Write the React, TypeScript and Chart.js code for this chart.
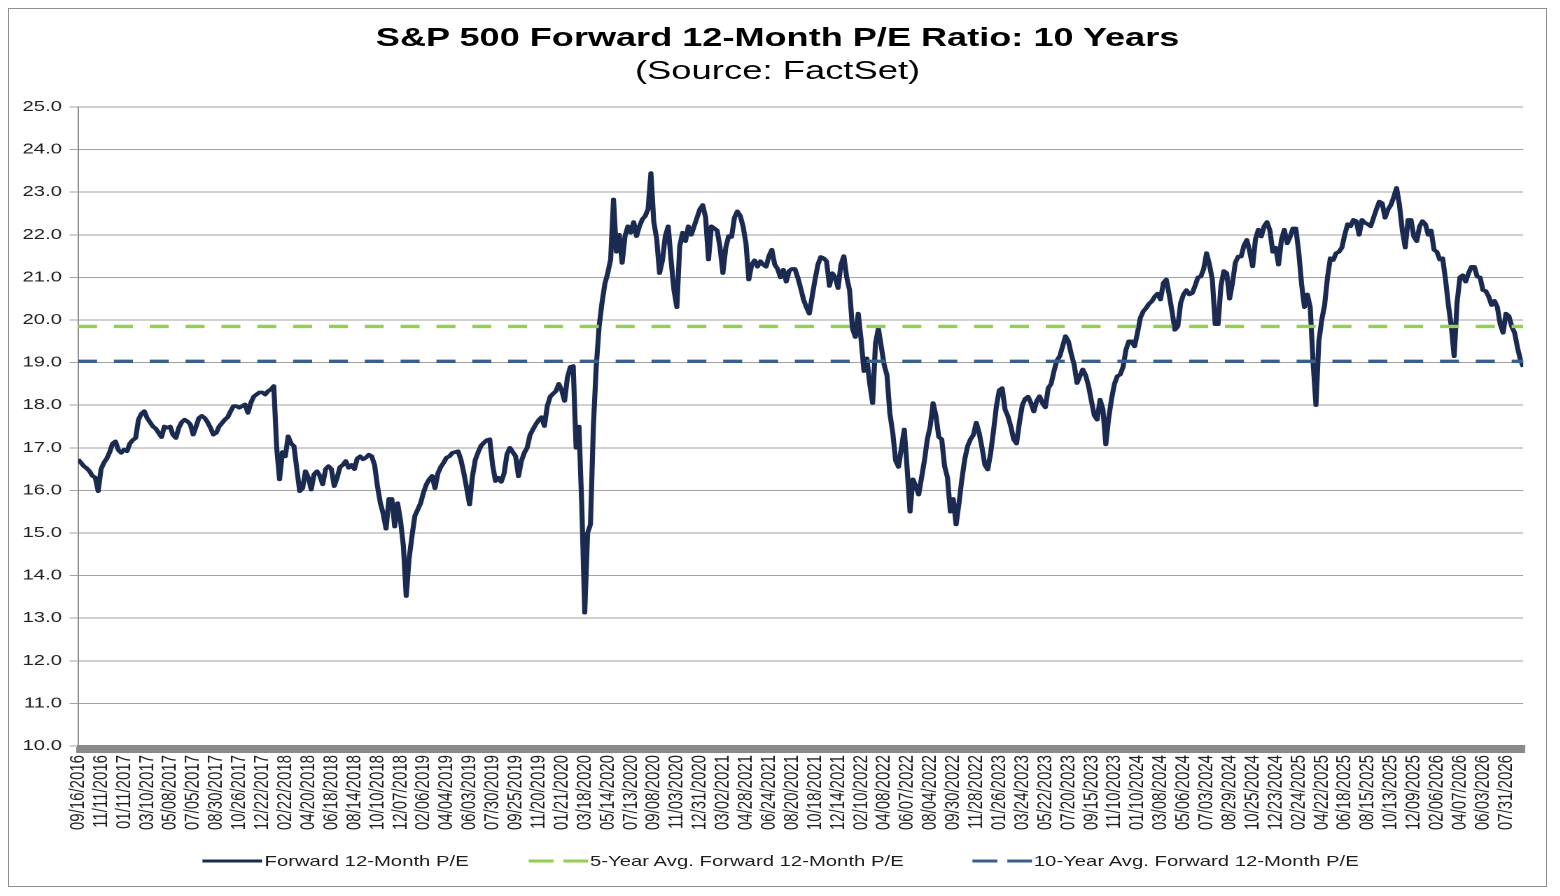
import React, { useEffect, useRef } from "react";
import { Chart, registerables } from "chart.js";

Chart.register(...registerables);

// ---------- data ----------
const chartTitle = "S&P 500 Forward 12-Month P/E Ratio: 10 Years";
const chartSubtitle = "(Source: FactSet)";

const seriesNames = [
  "Forward 12-Month P/E",
  "5-Year Avg. Forward 12-Month P/E",
  "10-Year Avg. Forward 12-Month P/E",
];

// Category labels shown on the x axis (one every 8 weekly points)
const tickLabels = [
  "09/16/2016", "11/11/2016", "01/11/2017", "03/10/2017", "05/08/2017", "07/05/2017", "08/30/2017",
  "10/26/2017", "12/22/2017", "02/22/2018", "04/20/2018", "06/18/2018", "08/14/2018", "10/10/2018",
  "12/07/2018", "02/06/2019", "04/04/2019", "06/03/2019", "07/30/2019", "09/25/2019", "11/20/2019",
  "01/21/2020", "03/18/2020", "05/14/2020", "07/13/2020", "09/08/2020", "11/03/2020", "12/31/2020",
  "03/02/2021", "04/28/2021", "06/24/2021", "08/20/2021", "10/18/2021", "12/14/2021", "02/10/2022",
  "04/08/2022", "06/07/2022", "08/04/2022", "09/30/2022", "11/28/2022", "01/26/2023", "03/24/2023",
  "05/22/2023", "07/20/2023", "09/15/2023", "11/10/2023", "01/10/2024", "03/08/2024", "05/06/2024",
  "07/03/2024", "08/29/2024", "10/25/2024", "12/23/2024", "02/24/2025", "04/22/2025", "06/18/2025",
  "08/15/2025", "10/13/2025", "12/09/2025", "02/06/2026", "04/07/2026", "06/03/2026", "07/31/2026",
];
const pointsPerLabel = 8;

// Forward 12-month P/E
const peValues = [
  16.73, 16.65, 16.57, 16.52, 16.45, 16.34, 16.3, 15.98, 16.5, 16.65,
  16.75, 16.9, 17.1, 17.15, 16.95, 16.88, 16.96, 16.92, 17.1, 17.18,
  17.23, 17.66, 17.8, 17.86, 17.7, 17.6, 17.5, 17.45, 17.35, 17.25,
  17.5, 17.47, 17.5, 17.3, 17.23, 17.47, 17.6, 17.66, 17.62, 17.55,
  17.31, 17.5, 17.7, 17.75, 17.7, 17.6, 17.47, 17.31, 17.35, 17.5,
  17.58, 17.66, 17.72, 17.86, 17.98, 17.98, 17.94, 17.98, 18.02, 17.82,
  18.05, 18.2, 18.25, 18.3, 18.3, 18.25, 18.33, 18.37, 18.45, 17.0,
  16.26, 16.9, 16.8, 17.27, 17.1, 17.04, 16.5, 15.98, 16.05, 16.45,
  16.3, 16.02, 16.38, 16.45, 16.34, 16.14, 16.5, 16.57, 16.5, 16.1,
  16.3, 16.55, 16.6, 16.69, 16.53, 16.6, 16.5, 16.75, 16.8, 16.73,
  16.77, 16.84, 16.8, 16.6, 16.1, 15.71, 15.45, 15.1, 15.8, 15.8,
  15.15, 15.7, 15.3, 14.7, 13.52, 14.4, 14.93, 15.4, 15.55, 15.7,
  15.95, 16.14, 16.26, 16.34, 16.05, 16.4, 16.55, 16.65, 16.77, 16.8,
  16.88, 16.9, 16.92, 16.72, 16.41, 16.05, 15.67, 16.33, 16.72, 16.9,
  17.05, 17.12, 17.18, 17.2, 16.6, 16.22, 16.3, 16.2, 16.4, 16.85,
  17.0, 16.9, 16.8, 16.33, 16.69, 16.88, 17.0, 17.3, 17.43, 17.55,
  17.65, 17.72, 17.51, 17.98, 18.2, 18.27, 18.33, 18.5, 18.35, 18.1,
  18.65, 18.9, 18.92, 17.0, 17.5, 15.6, 13.13, 15.0, 15.2, 17.5,
  18.9, 19.85, 20.4, 20.85, 21.1, 21.42, 22.83, 21.6, 22.0, 21.34,
  21.97, 22.2, 22.05, 22.3, 21.97, 22.2, 22.36, 22.44, 22.6, 23.45,
  22.3, 21.9, 21.1, 21.4, 21.97, 22.2, 21.4, 20.7, 20.3, 21.73,
  22.05, 21.85, 22.2, 22.0, 22.2, 22.4, 22.6, 22.7, 22.4, 21.42,
  22.2, 22.15, 22.1, 21.7, 21.1, 21.7, 21.97, 21.95, 22.4, 22.55,
  22.45, 22.2, 21.8, 20.95, 21.3, 21.4, 21.25, 21.38, 21.3, 21.25,
  21.5, 21.65, 21.3, 21.2, 21.0, 21.18, 20.9, 21.15, 21.2, 21.2,
  21.0, 20.75, 20.48, 20.3, 20.15, 20.55, 20.95, 21.3, 21.48, 21.45,
  21.38, 20.8, 21.1, 21.0, 20.75, 21.3, 21.5, 21.0, 20.7, 19.8,
  19.6, 20.15, 19.54, 18.8, 19.1, 18.5, 18.05, 19.45, 19.8, 19.38,
  18.95, 18.7, 17.8, 17.35, 16.7, 16.55, 17.0, 17.43, 16.5, 15.5,
  16.26, 16.1, 15.9, 16.3, 16.7, 17.2, 17.5, 18.05, 17.75, 17.25,
  17.2, 16.57, 16.3, 15.5, 15.8, 15.2, 15.7, 16.26, 16.73, 17.04,
  17.2, 17.3, 17.59, 17.35, 17.0, 16.6, 16.49, 16.88, 17.4, 17.98,
  18.35, 18.4, 17.9, 17.74, 17.5, 17.2, 17.1, 17.6, 18.0, 18.15,
  18.2, 18.05, 17.85, 18.1, 18.21, 18.05, 17.95, 18.4, 18.5, 18.8,
  19.05, 19.15, 19.38, 19.62, 19.5, 19.2, 18.95, 18.52, 18.68, 18.84,
  18.7, 18.45, 18.1, 17.76, 17.66, 18.13, 17.9, 17.08, 17.7, 18.15,
  18.5, 18.68, 18.72, 18.9, 19.3, 19.5, 19.5, 19.38, 19.7, 20.05,
  20.2, 20.28, 20.38, 20.44, 20.55, 20.62, 20.48, 20.87, 20.95, 20.6,
  20.2, 19.77, 19.85, 20.4, 20.6, 20.7, 20.6, 20.63, 20.8, 21.0,
  21.02, 21.2, 21.57, 21.3, 20.95, 19.9, 19.9, 20.8, 21.15, 21.1,
  20.5, 20.87, 21.35, 21.49, 21.49, 21.75, 21.88, 21.6, 21.26, 21.9,
  22.12, 21.96, 22.2, 22.3, 22.1, 21.6, 21.7, 21.3, 21.88, 22.12,
  21.8, 21.95, 22.15, 22.15, 21.6, 20.85, 20.3, 20.6, 20.3, 19.0,
  18.0, 19.5, 20.0, 20.35, 21.0, 21.45, 21.41, 21.57, 21.6, 21.7,
  22.0, 22.25, 22.2, 22.35, 22.32, 22.0, 22.35, 22.28, 22.25, 22.2,
  22.4, 22.6, 22.78, 22.74, 22.4, 22.59, 22.7, 22.88, 23.1, 22.7,
  22.1, 21.7, 22.35, 22.35, 21.96, 21.85, 22.2, 22.32, 22.25, 22.0,
  22.1, 21.65, 21.6, 21.42, 21.45, 20.95, 20.35, 19.85, 19.15, 20.4,
  21.0, 21.05, 20.9, 21.1, 21.25, 21.25, 21.02, 21.0, 20.7, 20.68,
  20.55, 20.35, 20.45, 20.3, 19.9, 19.7, 20.15, 20.09, 19.85, 19.7,
  19.35, 19.07, 18.9,
];

const fiveYearAvg = 19.85;
const tenYearAvg = 19.03;

const yMin = 10;
const yMax = 25;
const yStep = 1;

// ---------- styles ----------
const FONT = '"Liberation Sans", Arial, sans-serif';
const NAVY = "#1b2a50";
const GREEN = "#92d050";
const STEEL = "#3a5f8c";
const TEXT = "#1e1e1e";
const STRETCH = 1.4; // the reference is horizontally stretched
const INNER_W = 1098;
const INNER_H = 877;

const legendLeft = [138, 370.5, 687.5];
const legendColors = [NAVY, GREEN, STEEL];
const legendDash = ["", "18 7", "18 7"];

export default function App() {
  const canvasRef = useRef<HTMLCanvasElement | null>(null);

  useEffect(() => {
    const canvas = canvasRef.current;
    if (!canvas) return;
    const lastIndex = peValues.length - 1;
    const chart = new Chart(canvas, {
      type: "line",
      data: {
        datasets: [
          {
            label: seriesNames[0],
            data: peValues.map((v, i) => ({ x: i, y: v })),
            borderColor: NAVY,
            backgroundColor: NAVY,
            borderWidth: 3.6,
            pointRadius: 0,
            tension: 0,
            borderJoinStyle: "round",
            order: 3,
          },
          {
            label: seriesNames[1],
            data: [
              { x: 0, y: fiveYearAvg },
              { x: lastIndex, y: fiveYearAvg },
            ],
            borderColor: GREEN,
            backgroundColor: GREEN,
            borderWidth: 3.4,
            borderDash: [13.6, 12],
            pointRadius: 0,
            order: 2,
          },
          {
            label: seriesNames[2],
            data: [
              { x: 0, y: tenYearAvg },
              { x: lastIndex, y: tenYearAvg },
            ],
            borderColor: STEEL,
            backgroundColor: STEEL,
            borderWidth: 3.4,
            borderDash: [13.6, 12],
            pointRadius: 0,
            order: 1,
          },
        ],
      },
      options: {
        animation: false,
        responsive: false,
        devicePixelRatio: 2,
        layout: { padding: { top: 98, right: 16.4, bottom: 40, left: 0 } },
        plugins: {
          legend: { display: false },
          title: { display: false },
          tooltip: { enabled: false },
        },
        scales: {
          x: {
            type: "linear",
            min: 0,
            max: lastIndex,
            afterBuildTicks: (scale: any) => {
              scale.ticks = peValues.map((_, i) => ({ value: i }));
            },
            afterFit: (scale: any) => {
              scale.height = 100;
              scale.paddingLeft = 0;
              scale.paddingRight = 0;
            },
            ticks: {
              autoSkip: false,
              minRotation: 90,
              maxRotation: 90,
              padding: 2,
              color: TEXT,
              font: { family: FONT, size: 15 },
              callback: (value: any) => {
                const v = Number(value);
                if (v % pointsPerLabel !== 0) return "";
                return tickLabels[v / pointsPerLabel] ?? "";
              },
            },
            grid: {
              drawOnChartArea: false,
              drawTicks: true,
              tickLength: 7,
              color: "#8a8a8a",
              lineWidth: 3,
            },
            border: { display: true, color: "#8a8a8a", width: 2 },
          },
          y: {
            min: yMin,
            max: yMax,
            afterFit: (scale: any) => {
              scale.width = 49.3;
            },
            ticks: {
              stepSize: yStep,
              padding: 5.5,
              color: TEXT,
              font: { family: FONT, size: 14.5 },
              callback: (v: any) => Number(v).toFixed(1),
            },
            grid: { color: "#a3a3a3", lineWidth: 1, tickLength: 6 },
            border: { display: true, color: "#8c8c8c", width: 1 },
          },
        },
      },
    } as any);
    return () => chart.destroy();
  }, []);

  return (
    <div
      style={{
        position: "relative",
        width: 1537,
        height: 877,
        border: "1px solid #8f8f8f",
        overflow: "hidden",
        background: "#ffffff",
      }}
    >
      <div
        style={{
          position: "absolute",
          left: 0,
          top: 0,
          width: INNER_W,
          height: INNER_H,
          transform: `scaleX(${STRETCH})`,
          transformOrigin: "0 0",
        }}
      >
        <canvas
          ref={canvasRef}
          width={INNER_W}
          height={INNER_H}
          style={{ position: "absolute", left: 0, top: 0 }}
        />
        <div
          style={{
            position: "absolute",
            left: 0,
            top: 13,
            width: INNER_W,
            textAlign: "center",
            fontFamily: FONT,
            fontWeight: "bold",
            fontSize: 25.8,
            lineHeight: "30px",
            color: "#000",
            whiteSpace: "nowrap",
          }}
        >
          {chartTitle}
        </div>
        <div
          style={{
            position: "absolute",
            left: 0,
            top: 46,
            width: INNER_W,
            textAlign: "center",
            fontFamily: FONT,
            fontSize: 26,
            lineHeight: "30px",
            color: "#000",
            whiteSpace: "nowrap",
          }}
        >
          {chartSubtitle}
        </div>
        {seriesNames.map((name, i) => (
          <div
            key={name}
            style={{
              position: "absolute",
              left: legendLeft[i],
              top: 842,
              height: 20,
              display: "flex",
              alignItems: "center",
              whiteSpace: "nowrap",
            }}
          >
            <svg width={43} height={20} style={{ display: "block" }}>
              <line
                x1={0}
                y1={10}
                x2={43}
                y2={10}
                stroke={legendColors[i]}
                strokeWidth={3.2}
                strokeDasharray={legendDash[i] || undefined}
              />
            </svg>
            <span
              style={{
                marginLeft: 1.5,
                fontFamily: FONT,
                fontSize: 14.5,
                lineHeight: "20px",
                color: TEXT,
              }}
            >
              {name}
            </span>
          </div>
        ))}
      </div>
    </div>
  );
}
